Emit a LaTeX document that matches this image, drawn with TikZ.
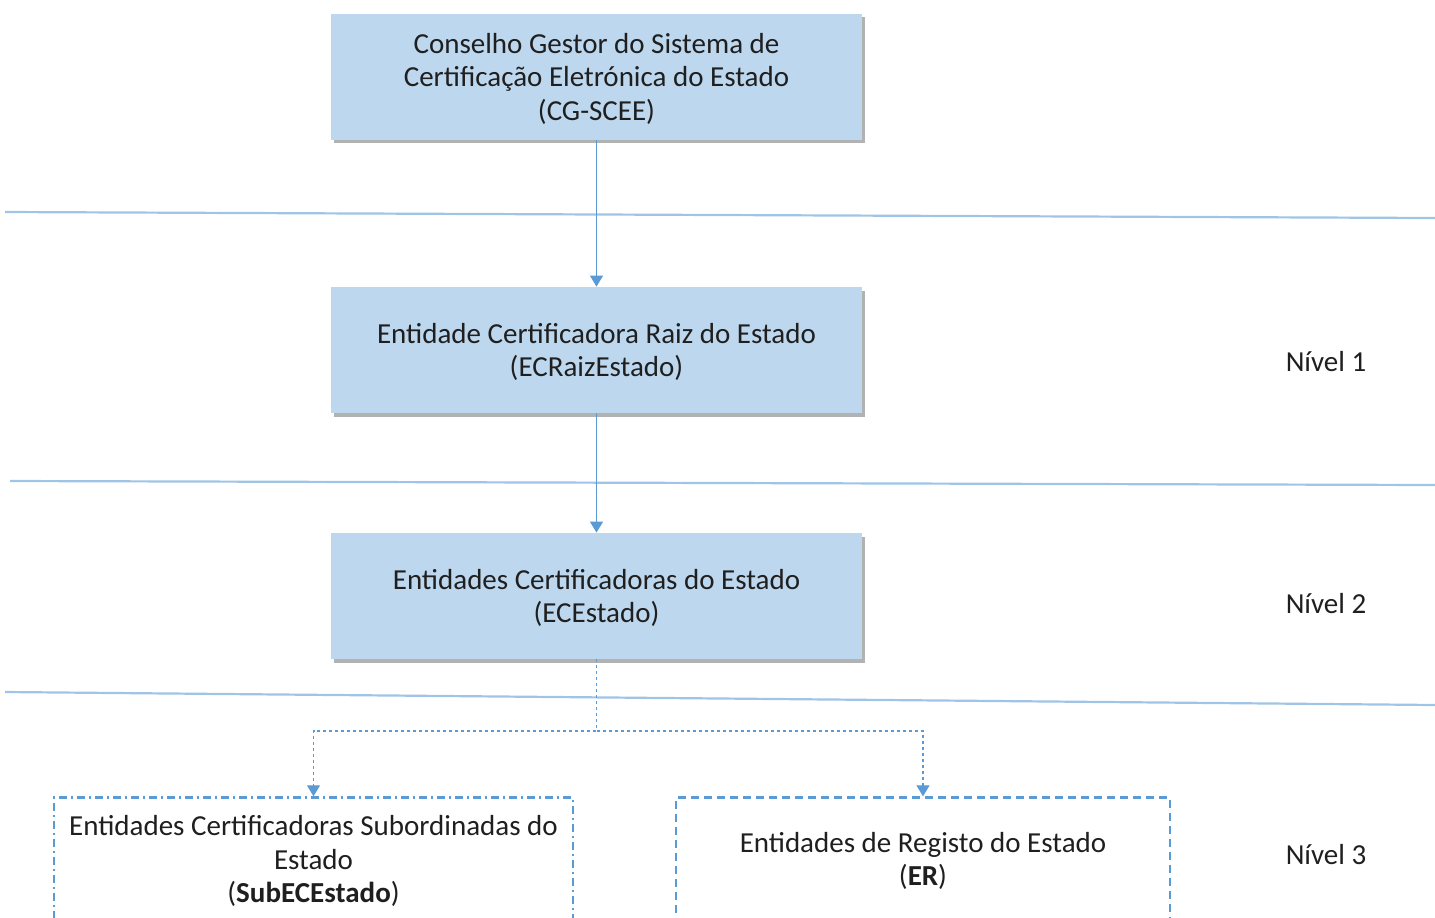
\documentclass[tikz,border=0pt]{standalone}
\usepackage{fontspec}
\setmainfont{Carlito}
\usetikzlibrary{arrows.meta,shadows}
\definecolor{entity fill}{RGB}{189,215,238}
\definecolor{link blue}{RGB}{91,155,213}
\definecolor{level blue}{RGB}{160,196,230}
\colorlet{entity text}{black!88}
\newcommand{\entitytext}[1]{\raisebox{-1.7pt}[\height][\depth]{\begin{tabular}{@{}c@{}}#1\end{tabular}}}
\tikzset{entity/.style={fill=entity fill, minimum width=265.5pt, minimum height=63pt,
		align=center, text=entity text, font=\fontsize{14.5}{16.75}\selectfont,
		drop shadow={shadow xshift=1.5pt, shadow yshift=-1.8pt, fill=black, opacity=0.3}},
	subentity/.style={draw=link blue, line width=1.2pt, minimum height=63.5pt,
		align=center, text=entity text, font=\fontsize{14.5}{16.75}\selectfont},
	level/.style={text=entity text, font=\fontsize{14.5}{16.75}\selectfont},
	level line/.style={draw=level blue, line width=1.1pt},
	link/.style={draw=link blue, line width=0.6pt, -{Triangle[width=6.5pt,length=5.5pt]}},
	sublink/.style={draw=link blue, line width=0.6pt, dash pattern=on 1.5pt off 1.5pt, -{Triangle[width=6.5pt,length=5.5pt]}}}

\begin{document}
\begin{tikzpicture}[x=0.5pt,y=-0.5pt]
		\useasboundingbox (0,0) rectangle (1435,917);
		\clip (0,0) rectangle (1435,917);
		% separators between the levels
		\draw[level line] (5,212) -- (1435,218);
		\draw[level line] (10,481) -- (1435,485);
		\draw[level line] (5,692) -- (1435,705);
		
		\node[entity] (cgscee) at (596.5,76.5) {\entitytext{Conselho Gestor do Sistema de\\Certificação Eletrónica do Estado\\(CG-SCEE)}};
		\node[entity] (ecraiz) at (596.5,350) {\entitytext{Entidade Certificadora Raiz do Estado\\(ECRaizEstado)}};
		\node[entity] (ecestado) at (596.5,596) {\entitytext{Entidades Certificadoras do Estado\\(ECEstado)}};
		\node[subentity, dash pattern=on 4pt off 2pt on 1pt off 2pt, minimum width=259.5pt] (subec) at (313.5,861) {Entidades Certificadoras Subordinadas do\\Estado\\(\textbf{SubECEstado})};
		\node[subentity, dash pattern=on 4pt off 2.5pt, minimum width=247pt] (er) at (923,861) {Entidades de Registo do Estado\\(\textbf{ER})};
		
		\node[level] (nivel1) at (1326,362) {Nível 1};
		\node[level] (nivel2) at (1326,604) {Nível 2};
		\node[level] (nivel3) at (1326,855) {Nível 3};
		
		\coordinate (split) at (596.5,731);
		\draw[link] (cgscee) -- (ecraiz);
		\draw[link] (ecraiz) -- (ecestado);
		\draw[sublink] (ecestado) -- (split) -| (subec);
		\draw[sublink] (split) -| (er);
\end{tikzpicture}
\end{document}
